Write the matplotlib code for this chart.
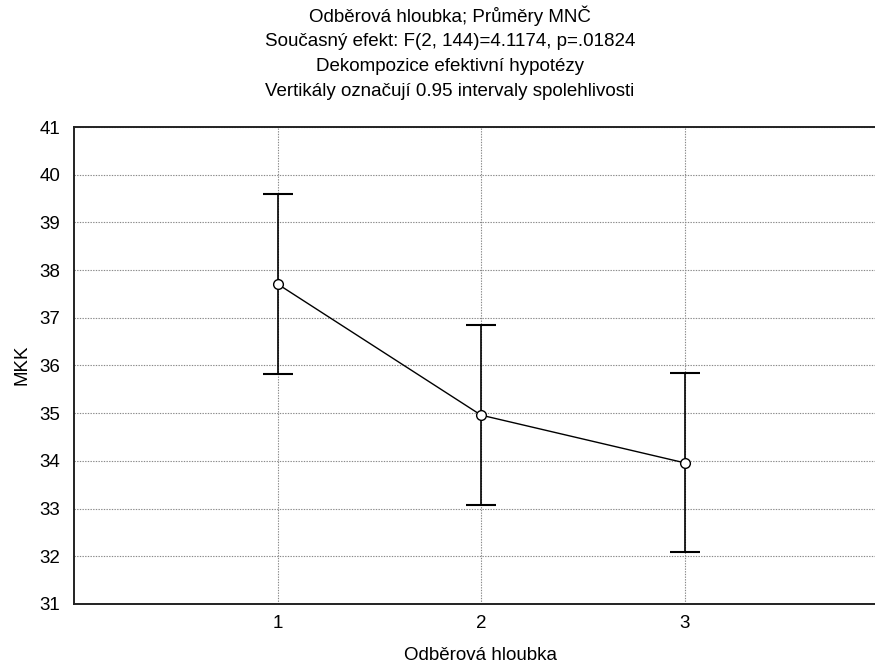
import matplotlib.pyplot as plt

# Odběrová hloubka – průměry MNČ s 0.95 intervaly spolehlivosti
hloubka = [1, 2, 3]
prumery = [37.71, 34.96, 33.96]
ci_horni = [39.59, 36.85, 35.84]
ci_dolni = [35.82, 33.08, 32.09]

titulky = [
    "Odběrová hloubka; Průměry MNČ",
    "Současný efekt: F(2, 144)=4.1174, p=.01824",
    "Dekompozice efektivní hypotézy",
    "Vertikály označují 0.95 intervaly spolehlivosti",
]

plt.rcParams['font.family'] = ['Liberation Sans', 'DejaVu Sans']
FS = 13.5

fig = plt.figure(figsize=(8.75, 6.68), dpi=100)
W, H = 875, 668
# osa přesahuje pravý okraj obrázku (rozsah x 0..4)
ax = fig.add_axes([74 / W, (H - 604) / H, 814 / W, 477 / H])

err_dolu = [m - d for m, d in zip(prumery, ci_dolni)]
err_nahoru = [h - m for m, h in zip(prumery, ci_horni)]

ax.errorbar(hloubka, prumery, yerr=[err_dolu, err_nahoru], fmt='none',
            ecolor='black', elinewidth=1.2, capsize=11, capthick=1.5, zorder=3)
ax.plot(hloubka, prumery, color='black', lw=1, marker='o', ms=7,
        mfc='white', mec='black', mew=1, zorder=4)

ax.set_xlim(0, 4)
ax.set_ylim(31, 41)
ax.set_xticks(hloubka)
ax.set_yticks(range(31, 42))
ax.tick_params(length=0, labelsize=FS)
ax.tick_params(axis='x', pad=8)
ax.tick_params(axis='y', pad=10)

ax.grid(True, color='#888888', linestyle=(0, (1.2, 1.2)), lw=0.8)
ax.set_axisbelow(True)
for s in ['top', 'bottom', 'left']:
    ax.spines[s].set_color('#222222')
    ax.spines[s].set_linewidth(1.4)
ax.spines['right'].set_visible(False)

fig.text(22 / W, 1 - 365 / H, 'MKK', rotation=90, ha='center', va='center', fontsize=FS)
fig.text(480 / W, 1 - 656 / H, 'Odběrová hloubka', ha='center', va='center', fontsize=FS)

for i, t in enumerate(titulky):
    fig.text(450 / W, 1 - (16 + i * 25.3) / H, t, ha='center', va='center', fontsize=FS)

fig.savefig('out.png', dpi=100)
